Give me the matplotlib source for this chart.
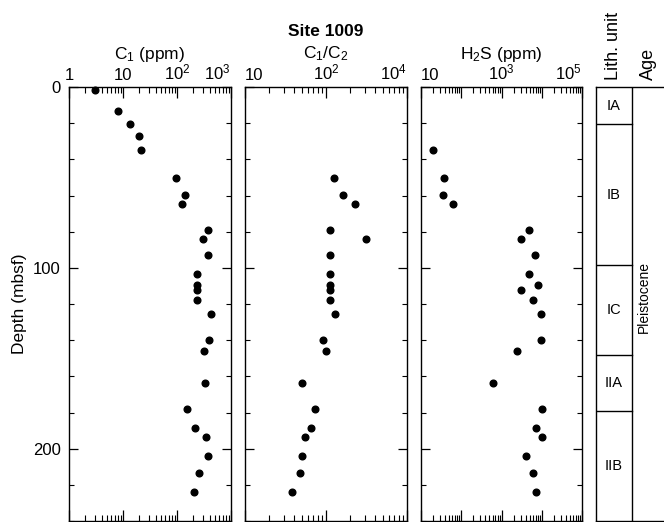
"""Site 1009 headspace gas profiles (C1, C1/C2, H2S) with lithology column."""

import matplotlib

matplotlib.use("Agg")
import matplotlib.pyplot as plt
import numpy as np
from matplotlib.ticker import FixedLocator, LogLocator, NullFormatter

FIG_W, FIG_H = 6.64, 5.22
DPI = 100

# ---- data (depth in mbsf) ----
depth_c1 = [1.7, 13.1, 20.6, 27.1, 34.8, 50.5, 59.7, 64.7, 78.9, 83.9, 92.9, 103.6, 109.3,
            112.3, 117.8, 125.6, 139.8, 146.0, 163.9, 177.9, 188.6, 193.6, 204.1, 213.3, 224.0]
c1_ppm = [3.0, 8.2, 13.3, 19.5, 21.5, 95, 139, 125, 370, 299, 370, 238, 238,
          238, 238, 419, 397, 316, 330, 153, 215, 350, 370, 255, 204]

depth_ratio = [50.5, 59.7, 64.7, 78.9, 83.9, 92.9, 103.6, 109.3, 112.3, 117.8, 125.6, 139.8,
               146.0, 163.9, 177.9, 188.6, 193.6, 204.1, 213.3, 224.0]
c1_c2 = [127, 164, 228, 113, 315, 113, 113, 113, 113, 113, 128, 92,
         99, 51, 74, 66, 55, 50, 48, 38]

depth_h2s = [34.8, 50.5, 59.7, 64.7, 78.9, 83.9, 92.9, 103.6, 109.3, 112.3, 117.8, 125.6,
             139.8, 146.0, 163.9, 177.9, 188.6, 193.6, 204.1, 213.3, 224.0]
h2s_ppm = [20, 38, 35, 63, 4800, 3100, 6900, 4800, 7900, 3100, 5960, 9400,
           9400, 2470, 630, 10000, 7400, 10000, 4160, 5960, 7400]

lith_units = ["IA", "IB", "IC", "IIA", "IIB"]
lith_tops = [0, 20.6, 98.5, 148.0, 179.0]
age_label = "Pleistocene"
age_mid = 116

DEPTH_MAX = 240

# ---- panel setup: (xlabel, xlim, tick values, tick labels) ----
PANELS = [
    ("C$\\mathregular{_1}$ (ppm)", (1, 1e3), [1, 10, 100, 1000],
     ["1", "10", "$\\mathregular{10^2}$", "$\\mathregular{10^3}$"]),
    ("C$\\mathregular{_1}$/C$\\mathregular{_2}$", (10, 1e3), [10, 100, 1000],
     ["10", "$\\mathregular{10^2}$", "$\\mathregular{10^4}$"]),
    ("H$\\mathregular{_2}$S (ppm)", (10, 1e5), [10, 100, 1e3, 1e4, 1e5],
     ["10", "", "$\\mathregular{10^3}$", "", "$\\mathregular{10^5}$"]),
]


def set_style() -> None:
    plt.rcParams.update(
        {
            "font.family": ["Liberation Sans", "DejaVu Sans"],
            "font.size": 12.5,
            "xtick.labelsize": 12,
            "ytick.labelsize": 12,
            "axes.labelsize": 12.5,
            "axes.linewidth": 1.0,
            "xtick.major.width": 0.9,
            "xtick.minor.width": 0.8,
            "ytick.major.width": 0.9,
            "ytick.minor.width": 0.8,
        }
    )


def px(x0, y0, x1, y1):
    """Pixel box (top-left origin) -> figure fraction rect."""
    W, H = FIG_W * DPI, FIG_H * DPI
    return [x0 / W, 1 - y1 / H, (x1 - x0) / W, (y1 - y0) / H]


def style_depth_axis(ax, show_labels=False):
    ax.set_ylim(DEPTH_MAX, 0)
    ax.yaxis.set_major_locator(FixedLocator([0, 100, 200]))
    ax.yaxis.set_minor_locator(FixedLocator(np.arange(0, DEPTH_MAX + 1, 20)))
    ax.tick_params(axis="y", which="both", direction="in", left=True, right=True,
                   labelleft=show_labels, pad=6)
    ax.tick_params(axis="y", which="major", length=6.5)
    ax.tick_params(axis="y", which="minor", length=3.8)


def style_log_axis(ax, xlabel, xlim, ticks, labels, first_ha):
    ax.set_xscale("log")
    ax.set_xlim(*xlim)
    ax.xaxis.set_major_locator(FixedLocator(ticks))
    ax.set_xticklabels(labels)
    ax.xaxis.set_minor_locator(LogLocator(base=10, subs=np.arange(2, 10), numticks=20))
    ax.xaxis.set_minor_formatter(NullFormatter())
    ax.tick_params(axis="x", which="both", direction="in", top=True, bottom=True,
                   labeltop=True, labelbottom=False, pad=3)
    ax.tick_params(axis="x", which="major", length=8)
    ax.tick_params(axis="x", which="minor", length=4.3)
    ax.xaxis.set_label_position("top")
    ax.set_xlabel(xlabel, labelpad=3)
    tl = ax.get_xticklabels()
    tl[0].set_horizontalalignment(first_ha)
    tl[-1].set_horizontalalignment("right")


set_style()
fig = plt.figure(figsize=(FIG_W, FIG_H), dpi=DPI)

boxes = [(69, 87, 231, 521), (245, 87, 407, 521), (421, 87, 582, 521)]
series = [(c1_ppm, depth_c1), (c1_c2, depth_ratio), (h2s_ppm, depth_h2s)]
axes = []
for i, (box, (xs, ys), (xlabel, xlim, ticks, labels)) in enumerate(zip(boxes, series, PANELS)):
    ax = fig.add_axes(px(*box))
    ax.plot(xs, ys, "o", color="black", ms=4.8, clip_on=False)
    style_depth_axis(ax, show_labels=(i == 0))
    style_log_axis(ax, xlabel, xlim, ticks, labels, "center" if i == 0 else "left")
    axes.append(ax)

axes[0].set_ylabel("Depth (mbsf)", labelpad=4)
fig.text(326 / 664, 1 - 31 / 522, "Site 1009", ha="center", va="center",
         fontweight="bold", fontsize=12.5)

# ---- lithology / age column ----
lax = fig.add_axes(px(596, 87, 664, 521))
lax.set_xlim(0, 1)
lax.set_ylim(DEPTH_MAX, 0)
lax.set_xticks([])
lax.set_yticks([])
lax.spines["right"].set_visible(False)
split = 36 / 68
lax.axvline(split, color="black", lw=1.0)
bounds = lith_tops + [DEPTH_MAX]
for name, top, bot in zip(lith_units, bounds[:-1], bounds[1:]):
    if top > 0:
        lax.plot([0, split], [top, top], color="black", lw=1.0)
    lax.text(split / 2, (top + bot) / 2, name, ha="center", va="center", fontsize=10.5)
lax.text(split + 0.17, age_mid, age_label, rotation=90, ha="center", va="center", fontsize=10)
lax.text(split / 2, 1.016, "Lith. unit", rotation=90, ha="center", va="bottom",
         transform=lax.get_xaxis_transform(), fontsize=13)
lax.text(split + (1 - split) / 2, 1.016, "Age", rotation=90, ha="center", va="bottom",
         transform=lax.get_xaxis_transform(), fontsize=13)

fig.savefig("out.png", dpi=DPI)
